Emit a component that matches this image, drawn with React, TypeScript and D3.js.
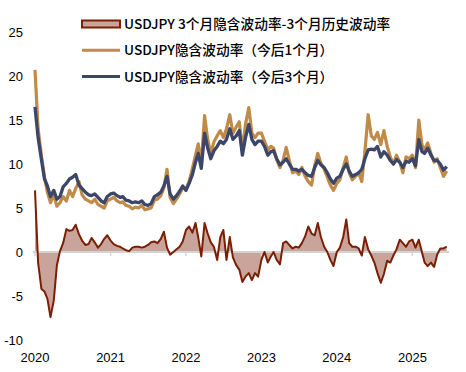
import React, { useEffect, useRef } from "react";
import * as d3 from "d3";

// semi-monthly readings, Jan 2020 -> Jun 2025
const vol1m = [
  20.7, 14, 11, 8.5, 6.8, 5.6, 6.5, 5.2, 5.6, 6.3, 5.8, 7, 6.3, 7.2, 8, 6.5, 6, 5.8, 5.6, 6, 5.4, 5.2, 5.0, 5.8,
  6.0, 6.2, 5.8, 5.6, 5.7, 5.3, 5.2, 4.9, 5.1, 5.0, 5.3, 4.8, 4.9, 5.0, 5.9, 6.0, 6.4, 7.3, 9.4, 6.2, 5.5, 6.0, 6.6, 7.3,
  7.2, 8.0, 9.5, 11, 12.3, 10, 15.5, 12.8, 11.2, 12.5, 13.2, 13.8, 13, 14, 15.6, 13.5, 14.2, 14.8, 11.5, 14.5, 16.4, 13.5, 13, 13.5,
  13.5, 12.6, 11.6, 12.0, 11.8, 10.5, 9.6, 10.4, 11.9, 10.4, 9.0, 9.2, 8.8, 9.6, 8.6, 8.0, 7.6, 9.8, 11.2, 10.1, 9.4, 8.5, 7.6, 7.0,
  7.8, 8.2, 9.6, 10.8, 9.0, 8.2, 8.6, 9.0, 8.0, 11.4, 15.6, 13.2, 12.8, 13.6, 12.2, 13.8, 12.0, 10.8, 10.0, 11.0, 10.2, 9.0, 10.8, 10.6,
  11.0, 9.6, 15.0, 12.2, 11.6, 12.4, 11.2, 10.2, 10.6, 9.6, 8.6, 9.2,
];
const vol3m = [
  16.5, 13, 10.5, 8.3, 7.5, 6.3, 7, 6, 6.3, 7.4, 7.8, 8.3, 8.5, 8.8, 7.6, 7.2, 6.8, 6.5, 6.4, 6.6, 6.2, 5.8, 5.6, 6.3,
  6.6, 6.7, 6.4, 6.2, 6.3, 5.9, 5.8, 5.6, 5.7, 5.6, 5.8, 5.4, 5.3, 5.5, 6.3, 6.5, 6.8, 7.5, 8.6, 6.6, 6.0, 6.4, 6.9, 7.5,
  7.0, 7.8, 8.8, 10.2, 11.2, 9.5, 13.5, 11.8, 10.6, 11.5, 12.0, 12.6, 12.3, 12.8, 14.0, 12.8, 13.2, 13.8, 11.0, 13.0, 14.5, 12.8, 12.2, 12.6,
  12.6, 12.0, 11.0, 11.4, 11.5, 10.6, 9.9, 10.2, 10.6, 10.0, 9.4, 9.4, 9.2, 9.4, 9.0, 8.7, 8.6, 9.6, 10.4, 9.9, 9.6, 9.0, 8.3, 7.8,
  8.4, 8.6, 9.4, 10.0, 9.2, 8.6, 8.8, 9.0, 9.4, 10.6, 11.6, 11.7, 11.6, 12.0, 10.8, 11.4, 11.0, 10.4, 10.0, 10.5, 10.2, 9.6, 10.3, 10.2,
  10.6, 9.8, 12.8, 11.4, 11.2, 11.8, 11.0, 10.4, 10.4, 10.0, 9.3, 9.7,
];
const spread = [
  7.0, -1.2, -4.2, -4.5, -5.3, -7.4, -5.5, -1.5, 0.1, 1.0, 2.6, 2.4, 2.5, 3.1, 2.0, 1.3, 0.8, 0.9, 1.6, 1.1, 0.5, 0.9, 1.5, 1.9,
  1.3, 0.9, 0.7, 0.6, 0.4, 0.2, 0.1, 0.5, 0.6, 0.6, 0.5, 0.6, 0.8, 1.1, 1.2, 1.0, 1.5, 2.3, 0.5, -0.3, 0.0, 0.3, 0.6, 1.2,
  2.5, 2.9, 2.2, 3.3, 1.7, -0.5, 3.3, 2.1, 1.1, 0.6, -0.9, 1.7, 2.5, -0.9, 1.7, -0.6, -1.5, -2.0, -3.4, -2.8, -2.4, -3.2, -2.4, -2.8,
  -0.9, 0.0, -1.2, -0.5, 0.0, -0.9, -1.4, 1.0, 1.2, 0.8, 0.4, 0.6, 0.5, 1.0, 1.8, 2.9, 2.1, 1.9, 3.3, 1.7, 0.6, 0.0, -0.9, -1.6,
  0.0, 0.5, 1.7, 3.7, 1.0, 0.6, 0.6, 0.4, -0.4, 1.7, 0.3, -0.4, -1.2, -2.4, -3.5, -2.5, -1.0, -1.2, -0.4, 0.3, 1.4, 1.0, 0.6, 1.2,
  1.4, 0.5, 1.4, 0.0, -1.2, -1.6, -1.2, -1.7, -0.3, 0.4, 0.4, 0.6,
];
const yearLabels = ["2020", "2021", "2022", "2023", "2024", "2025"];
const yTicks = [-10, -5, 0, 5, 10, 15, 20, 25];
const legendLabels = [
  "USDJPY 3个月隐含波动率-3个月历史波动率",
  "USDJPY隐含波动率（今后1个月）",
  "USDJPY隐含波动率（今后3个月）",
];

const dates = vol3m.map((_, i) => new Date(2020, Math.floor(i / 2), i % 2 ? 16 : 1));

const W = 466;
const H = 372;
const GOLD = "#c08b48";
const NAVY = "#3b4669";
const RUST = "#7a1e04";
const PINK = "#c9a49b";

export default function App() {
  const ref = useRef<SVGSVGElement>(null);

  useEffect(() => {
    const svg = d3.select(ref.current);
    svg.selectAll("*").remove();

    const x = d3.scaleTime().domain([new Date(2020, 0, 1), new Date(2025, 0, 1)]).range([35, 412.4]);
    const y = d3.scaleLinear().domain([-10, 25]).range([340, 32]);

    // y labels
    svg.append("g").selectAll("text").data(yTicks).join("text")
      .attr("x", 23).attr("y", d => y(d)).attr("dy", "0.36em")
      .attr("text-anchor", "end")
      .style("font-family", "Liberation Sans, Arial, sans-serif").style("font-size", "13px")
      .text(d => d);

    // spread area + outline
    const area = d3.area<number>().x((_, i) => x(dates[i])).y0(y(0)).y1(d => y(d));
    svg.append("path").attr("d", area(spread)).attr("fill", PINK);

    // zero line and year ticks
    svg.append("line").attr("x1", 33).attr("x2", 449).attr("y1", y(0)).attr("y2", y(0))
      .attr("stroke", "#d4d4d4").attr("stroke-width", 2);
    svg.append("g").selectAll("line").data(yearLabels).join("line")
      .attr("x1", d => x(new Date(+d, 0, 1))).attr("x2", d => x(new Date(+d, 0, 1)))
      .attr("y1", y(0)).attr("y2", y(0) + 4)
      .attr("stroke", "#d4d4d4").attr("stroke-width", 1.5);

    const line = d3.line<number>().x((_, i) => x(dates[i])).y(d => y(d));
    svg.append("path").attr("d", line(spread)).attr("fill", "none")
      .attr("stroke", RUST).attr("stroke-width", 2).attr("stroke-linejoin", "round");
    svg.append("path").attr("d", line(vol1m)).attr("fill", "none")
      .attr("stroke", GOLD).attr("stroke-width", 3.2).attr("stroke-linejoin", "round");
    svg.append("path").attr("d", line(vol3m)).attr("fill", "none")
      .attr("stroke", NAVY).attr("stroke-width", 3.3).attr("stroke-linejoin", "round");

    // x labels
    svg.append("g").selectAll("text").data(yearLabels).join("text")
      .attr("x", d => x(new Date(+d, 0, 1))).attr("y", 362)
      .attr("text-anchor", "middle")
      .style("font-family", "Liberation Sans, Arial, sans-serif").style("font-size", "13px")
      .text(d => d);

    // legend
    const legend = svg.append("g");
    legendLabels.forEach((label, i) => {
      const cy = 24 + i * 26.3;
      const row = legend.append("g");
      if (i === 0) {
        row.append("rect").attr("x", 82).attr("y", cy - 3.5).attr("width", 38).attr("height", 7)
          .attr("fill", PINK).attr("stroke", RUST).attr("stroke-width", 2);
      } else {
        row.append("line").attr("x1", 82).attr("x2", 120).attr("y1", cy).attr("y2", cy)
          .attr("stroke", i === 1 ? GOLD : NAVY).attr("stroke-width", 3);
      }
      row.append("text").attr("x", 124).attr("y", cy).attr("dy", "0.36em")
        .style("font-family", "Noto Sans CJK SC, sans-serif").style("font-size", "13.7px")
        .style("font-weight", 500)
        .text(label);
    });
  }, []);

  return (
    <svg ref={ref} width={W} height={H} style={{ position: "absolute", left: 0, top: 0, background: "#fff" }} />
  );
}
